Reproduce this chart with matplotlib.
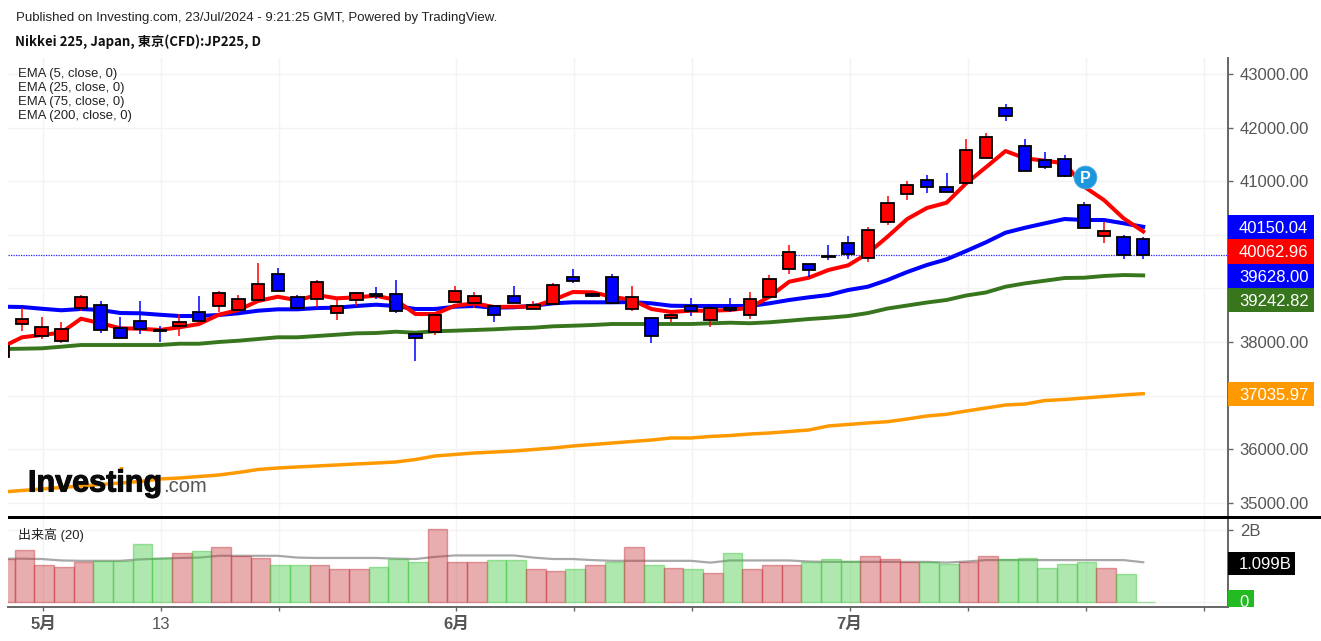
#!/usr/bin/env python

import matplotlib as mpl
mpl.use('Agg')
import matplotlib.pyplot as plt
from matplotlib.patches import Circle, Rectangle
import matplotlib.patheffects as pe
import numpy as np

plt.rcParams['font.family'] = ['Liberation Sans', 'Noto Sans CJK JP', 'DejaVu Sans']

W, H = 1321, 641

# daily candles, first entry is the one cut off by the left edge
opens = [37720, 38330, 38112, 38024, 38640, 38696, 38256, 38392, 38224, 38299, 38560,
         38666, 38592, 38778, 39263, 38834, 38808, 38536, 38778, 38896, 38890, 38144,
         38192, 38752, 38722, 38666, 38864, 38610, 38703, 39207, 38896, 39207, 38610,
         38448, 38442, 38672, 38416, 38629, 38498, 38834, 39368, 39461, 39610, 39847,
         39562, 40234, 40767, 41023, 40887, 40961, 41433, 42366, 41663, 41391, 41415,
         40551, 39984, 39959, 39928]
closes = [37925, 38424, 38274, 38248, 38834, 38218, 38080, 38248, 38200, 38368, 38386,
          38920, 38808, 39088, 38946, 38640, 39114, 38666, 38920, 38864, 38584, 38080,
          38498, 38952, 38864, 38498, 38722, 38696, 39064, 39144, 38864, 38722, 38834,
          38106, 38504, 38584, 38640, 38597, 38808, 39176, 39679, 39338, 39586, 39642,
          40096, 40599, 40935, 40898, 40793, 41577, 41831, 42223, 41191, 41266, 41098,
          40127, 40071, 39623, 39628]
highs = [37925, 38629, 38461, 38373, 38871, 38765, 38461, 38765, 38299, 38517, 38853,
         38957, 38871, 39469, 39375, 38871, 39151, 38784, 38933, 39021, 39157, 38174,
         38498, 39045, 38933, 38666, 39045, 38765, 39095, 39357, 38909, 39269, 39045,
         38461, 38504, 38821, 38640, 38821, 38933, 39245, 39810, 39461, 39810, 39978,
         40140, 40724, 41004, 41116, 41148, 41788, 41906, 42435, 41788, 41540, 41484,
         40607, 40245, 39991, 39965]
lows = [37720, 38211, 38062, 37987, 38578, 38174, 38080, 38149, 38006, 38118, 38386,
        38560, 38573, 38778, 38946, 38640, 38653, 38405, 38677, 38797, 38547, 37651,
        38125, 38752, 38629, 38379, 38722, 38610, 38703, 39107, 38845, 38722, 38573,
        37987, 38368, 38485, 38285, 38565, 38424, 38834, 39269, 39218, 39530, 39554,
        39493, 40189, 40644, 40786, 40793, 40961, 41433, 42124, 41191, 41234, 41085,
        40127, 39853, 39554, 39554]

ema5 = [37907, 38088, 38131, 38174, 38435, 38349, 38256, 38248, 38224, 38274, 38336,
        38509, 38597, 38765, 38845, 38778, 38877, 38815, 38834, 38864, 38784, 38522,
        38522, 38677, 38722, 38653, 38659, 38659, 38784, 38933, 38927, 38845, 38784,
        38616, 38560, 38584, 38584, 38597, 38640, 38845, 39125, 39200, 39344, 39431,
        39655, 39965, 40295, 40500, 40599, 40961, 41260, 41564, 41428, 41383, 41335,
        40898, 40650, 40308, 40063]
ema25 = [38659, 38653, 38621, 38592, 38616, 38597, 38541, 38536, 38509, 38485, 38485,
         38504, 38536, 38584, 38610, 38610, 38634, 38640, 38672, 38696, 38672, 38616,
         38616, 38659, 38672, 38640, 38648, 38677, 38722, 38741, 38741, 38741, 38746,
         38722, 38677, 38672, 38672, 38672, 38672, 38722, 38784, 38834, 38877, 38970,
         39032, 39157, 39306, 39437, 39543, 39698, 39860, 40040, 40133, 40215, 40295,
         40277, 40277, 40215, 40150]
ema75 = [37869, 37875, 37882, 37912, 37944, 37944, 37944, 37944, 37944, 37968, 37968,
         38000, 38024, 38056, 38088, 38088, 38112, 38136, 38162, 38168, 38192, 38174,
         38200, 38211, 38224, 38237, 38256, 38267, 38293, 38304, 38317, 38336, 38336,
         38336, 38336, 38336, 38349, 38360, 38350, 38368, 38397, 38429, 38453, 38485,
         38540, 38625, 38681, 38737, 38784, 38868, 38924, 39032, 39095, 39144, 39194,
         39200, 39232, 39250, 39243]
ema200 = [35201, 35229, 35257, 35285, 35313, 35341, 35369, 35397, 35444, 35462, 35490,
          35518, 35565, 35621, 35649, 35668, 35686, 35705, 35724, 35742, 35761, 35807,
          35873, 35901, 35929, 35947, 35966, 35994, 36022, 36059, 36087, 36115, 36143,
          36171, 36209, 36209, 36237, 36255, 36283, 36302, 36330, 36358, 36433, 36461,
          36489, 36513, 36563, 36619, 36651, 36712, 36768, 36824, 36843, 36908, 36927,
          36955, 36983, 37011, 37036]

# volume in billions
volume = [1.19, 1.44, 1.02, 0.97, 1.10, 1.14, 1.14, 1.60, 1.23, 1.35, 1.40, 1.52, 1.27,
          1.23, 1.02, 1.02, 1.02, 0.90, 0.90, 0.97, 1.19, 1.10, 2.02, 1.10, 1.10, 1.15,
          1.15, 0.90, 0.85, 0.90, 1.02, 1.10, 1.52, 1.02, 0.94, 0.90, 0.81, 1.35, 0.90,
          1.02, 1.02, 1.10, 1.19, 1.14, 1.27, 1.19, 1.10, 1.10, 1.06, 1.10, 1.27, 1.19,
          1.23, 0.94, 1.06, 1.10, 0.94, 0.77, -0.02]
volume_side = list('RRRRRGGGGRGRRRGGRRRGGGRRRGGRRGRGRGRGRGRRRGGGRRRGGRRGGGGGRGG')
volume_ma = [1.20, 1.20, 1.19, 1.15, 1.14, 1.14, 1.14, 1.18, 1.20, 1.22, 1.23, 1.28, 1.28,
             1.28, 1.28, 1.23, 1.22, 1.22, 1.22, 1.22, 1.20, 1.19, 1.25, 1.29, 1.29, 1.29,
             1.29, 1.23, 1.19, 1.19, 1.16, 1.14, 1.14, 1.14, 1.14, 1.14, 1.09, 1.15, 1.15,
             1.15, 1.15, 1.12, 1.11, 1.11, 1.11, 1.11, 1.11, 1.11, 1.09, 1.12, 1.16, 1.16,
             1.16, 1.16, 1.16, 1.16, 1.16, 1.16, 1.10]

last_price = 39628.00
price_ticks = [35000, 36000, 37000, 38000, 39000, 40000, 41000, 42000, 43000]
price_tick_labels = ['35000.00', '36000.00', '', '38000.00', '', '', '41000.00', '42000.00', '43000.00']
date_ticks = [1.07, 7.07, 13.07, 22.07, 28.07, 34.07, 42.07, 48.07, 54.07, 60.07]
date_tick_labels = ['5月', '13', '', '6月', '', '', '7月', '', '', '']
legend_labels = ['EMA (5, close, 0)', 'EMA (25, close, 0)', 'EMA (75, close, 0)', 'EMA (200, close, 0)']

# boxes on the price scale: top, bottom, right edge in pixels
scale_labels = [
  ('40150.04', 'blue', 215, 239, 1314),
  ('40062.96', 'red', 239, 264, 1314),
  ('39628.00', 'blue', 264, 288, 1314),
  ('39242.82', '#38761d', 288, 311.5, 1314),
  ('37035.97', '#ff9900', 382, 406, 1314),
  ('1.099B', 'black', 551.5, 575, 1295),
]

GREY = '#555555'
GRID = '#f3f3f3'

def pane(top, bottom):
  """
  Makes an axes from pixel rows, the left and right edges are the same for both panes.
  :param top: Top row of the pane.
  :param bottom: Bottom row of the pane.
  """
  ax = fig.add_axes([8 / W, 1 - bottom / H, 1220 / W, (bottom - top) / H])
  ax.set_xlim(-0.712, 61.31)
  ax.yaxis.tick_right()
  ax.set_xticks(date_ticks)
  ax.grid(True, color=GRID, lw=1)
  ax.set_axisbelow(True)
  for side in ['top', 'left', 'bottom']:
    ax.spines[side].set_visible(False)
  ax.spines['right'].set_color('#666666')
  ax.spines['right'].set_linewidth(1.4)
  ax.tick_params(axis='y', length=3.5, width=1, color='#666666', labelcolor=GREY, labelsize=12, pad=5)
  return ax

fig = plt.figure(figsize=(W / 100, H / 100), dpi=100)
xs = np.arange(-1, len(opens) - 1)

# price pane
ax = pane(58, 516)
ax.set_ylim(34753, 43300)
ax.set_yticks(price_ticks)
ax.set_yticklabels(price_tick_labels)
ax.tick_params(axis='x', length=0, labelbottom=False)

ax.plot(xs, ema200, color='#ff9900', lw=2.5, zorder=2, solid_joinstyle='round')
ax.plot(xs, ema75, color='#38761d', lw=2.8, zorder=2)
ax.plot(xs, ema25, color='#0000ff', lw=2.9, zorder=2.1)
ax.plot(xs, ema5, color='#ff0000', lw=2.9, zorder=2.2)
ax.axhline(last_price, color='#2222ff', lw=0.9, ls=(0, (1, 1)), zorder=2.3)

for x, o, h, l, c in zip(xs, opens, highs, lows, closes):
  color = '#ff0000' if c >= o else '#0000ff'
  ax.vlines(x, l, h, color=color, lw=1.1, zorder=3)
  ax.bar(x, abs(c - o), bottom=min(o, c), width=0.63, color=color, edgecolor='black', lw=1.3, zorder=3.1)

ax.scatter([54.05], [41079], s=270, color='#1e96dc', edgecolor='#52b1e8', lw=0.6, zorder=4)
ax.text(54.05, 41079, 'P', color='white', fontsize=11.5, fontweight='bold', ha='center', va='center_baseline', zorder=5)

# volume pane
ax2 = pane(518, 607)
ax2.set_ylim(-0.148, 2.334)
ax2.set_yticks([0, 2])
ax2.set_yticklabels(['', '2B'])
ax2.spines['bottom'].set_visible(True)
ax2.spines['bottom'].set_color('#666666')
ax2.spines['bottom'].set_linewidth(1.4)
ax2.set_xticklabels(date_tick_labels)
ax2.tick_params(axis='x', length=3, width=1, color='#666666', labelcolor=GREY, labelsize=12, pad=4)
for label in ax2.get_xticklabels():
  if '月' in label.get_text():
    label.set_fontweight('bold')

ax2.plot(xs, volume_ma, color='#a8a8a8', lw=1.6, zorder=2)
bar_colors = {'R': (0.775, 0.2, 0.225), 'G': (0.225, 0.775, 0.225)}
for x, v, side in zip(xs, volume, volume_side):
  r, g, b = bar_colors[side]
  ax2.bar(x + 0.12, v, width=1.0, facecolor=(r, g, b, 0.4), edgecolor=(r, g, b, 0.45), lw=1, zorder=3)

# separator between panes
fig.add_artist(Rectangle((8 / W, 1 - 518.5 / H), (W - 8) / W, 3 / H, transform=fig.transFigure, color='black', lw=0))

# scale boxes
for text, color, top, bottom, right in scale_labels:
  fig.add_artist(Rectangle((1228 / W, 1 - bottom / H), (right - 1228) / W, (bottom - top) / H,
                           transform=fig.transFigure, color=color, lw=0))
  fig.text(1239 / W, 1 - (top + bottom) / 2 / H, text, color='white', fontsize=12, va='center_baseline')

zero_box = Rectangle((1228 / W, 1 - 607 / H), 26 / W, 17 / H, transform=fig.transFigure, color='#22bb22', lw=0)
fig.add_artist(zero_box)
zero_text = fig.text(1239 / W, 1 - 601 / H, '0', color='white', fontsize=12, va='center_baseline')
zero_text.set_clip_path(zero_box)

# header and legends
fig.text(16 / W, 1 - 17 / H, 'Published on Investing.com, 23/Jul/2024 - 9:21:25 GMT, Powered by TradingView.',
         fontsize=9.55, color='#222222', va='center_baseline')
fig.text(15 / W, 1 - 40 / H, 'Nikkei 225, Japan, 東京(CFD):JP225, D', fontsize=9.5, fontweight='bold',
         family=['Noto Sans CJK JP', 'DejaVu Sans'], color='#111111', va='center_baseline')
for row, label in zip([73, 86.5, 100, 114], legend_labels):
  fig.text(18 / W, 1 - row / H, label, fontsize=9.35, color='#222222', va='center_baseline')
fig.text(18 / W, 1 - 533 / H, '出来高 (20)', fontsize=9.35, color='#222222', va='center_baseline')

# logo
logo = fig.text(28 / W, 1 - 491.5 / H, 'Investing', fontsize=22, fontweight='bold', color='#0a0a0a', va='baseline')
logo.set_path_effects([pe.withStroke(linewidth=0.8, foreground='#0a0a0a')])
fig.text(163 / W, 1 - 491.5 / H, '.com', fontsize=14.5, color=GREY, va='baseline')
fig.add_artist(Circle((121.5 / W, 1 - 468 / H), 2.2 / W, transform=fig.transFigure, color='#ff9900', lw=0))

fig.savefig('out.png', dpi=100)
